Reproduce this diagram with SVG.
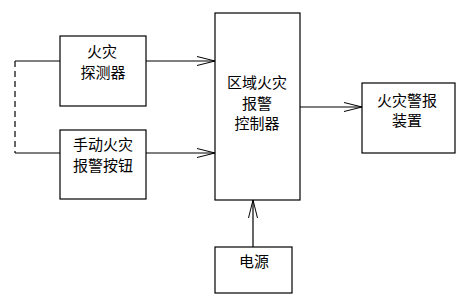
<svg xmlns="http://www.w3.org/2000/svg" width="464" height="304" viewBox="0 0 464 304">
<style>
.box{fill:#fff;stroke:#000;stroke-width:1.2}
.t{font-family:"Noto Sans CJK SC","Noto Sans",sans-serif;font-size:15px;fill:#000;text-anchor:middle}
.ln{fill:none;stroke:#000;stroke-width:1.2}
</style>
<defs>
<marker id="ah" markerUnits="userSpaceOnUse" markerWidth="20" markerHeight="12" refX="18" refY="5" orient="auto" viewBox="0 0 20 10">
<path d="M0,0.5 L18,5 L0,9.5" fill="none" stroke="#000" stroke-width="1"/>
</marker>
</defs>
<rect width="464" height="304" fill="#fff"/>
<g id="connectors">
<path class="ln" d="M60,61 H15"/>
<path class="ln" d="M60,153 H15"/>
<path class="ln" d="M15,61 V153" stroke-dasharray="6,4"/>
<path class="ln" d="M146,61 H215" marker-end="url(#ah)"/>
<path class="ln" d="M146,153 H215" marker-end="url(#ah)"/>
<path class="ln" d="M300,107 H362" marker-end="url(#ah)"/>
<path class="ln" d="M253,247 V200" marker-end="url(#ah)"/>
</g>
<g id="detector">
<rect class="box" x="60" y="36" width="86" height="70"/>
<text class="t" x="102" y="57">火灾</text>
<text class="t" x="103" y="78">探测器</text>
</g>
<g id="button">
<rect class="box" x="60" y="130" width="86" height="69"/>
<text class="t" x="103" y="150">手动火灾</text>
<text class="t" x="103" y="171">报警按钮</text>
</g>
<g id="controller">
<rect class="box" x="215" y="13" width="85" height="187"/>
<text class="t" x="257" y="88">区域火灾</text>
<text class="t" x="257" y="109">报警</text>
<text class="t" x="257" y="129">控制器</text>
</g>
<g id="alarm">
<rect class="box" x="362" y="83" width="93" height="70"/>
<text class="t" x="407" y="106">火灾警报</text>
<text class="t" x="407" y="126">装置</text>
</g>
<g id="power">
<rect class="box" x="215" y="247" width="77" height="46"/>
<text class="t" x="254" y="267">电源</text>
</g>
</svg>
